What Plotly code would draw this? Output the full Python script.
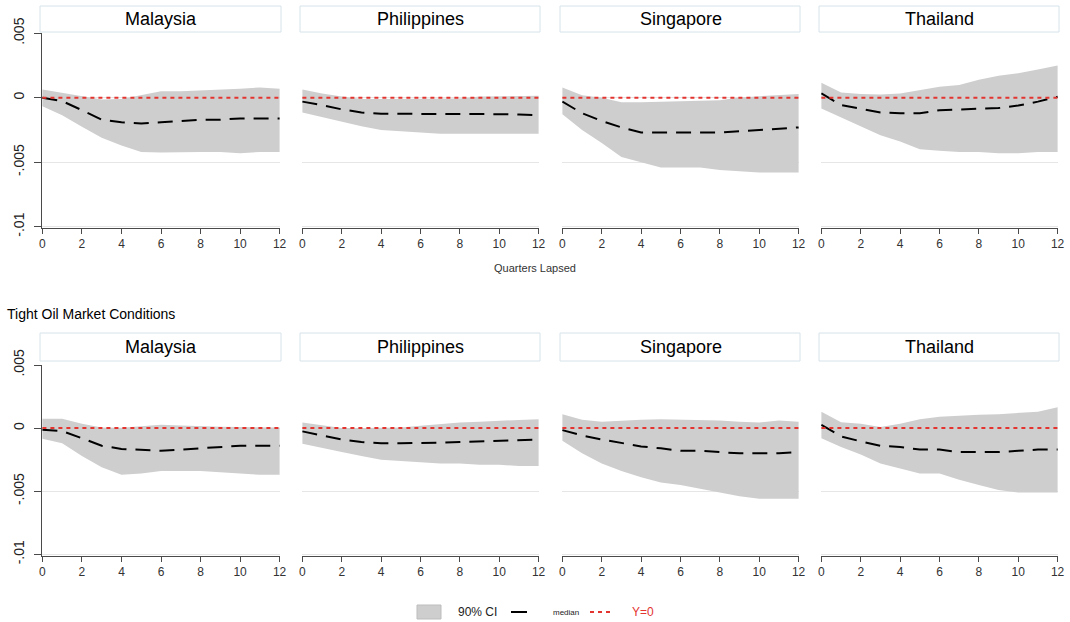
import plotly.graph_objects as go

# ---------------- data ----------------
quarters = [0, 1, 2, 3, 4, 5, 6, 7, 8, 9, 10, 11, 12]
countries = ["Malaysia", "Philippines", "Singapore", "Thailand"]
panel_title_bottom = "Tight Oil Market Conditions"
x_label = "Quarters Lapsed"
x_ticks = [0, 2, 4, 6, 8, 10, 12]
y_ticks = [-0.01, -0.005, 0, 0.005]
y_ticklabels = ["-.01", "-.005", "0", ".005"]
legend_labels = ["90% CI", "median", "Y=0"]
zero_ref = [0, 0, 0, 0, 0, 0, 0, 0, 0, 0, 0, 0, 0]

# top row (baseline)
MY1_hi = [0.00065, 0.0004, 0.0001, -0.00013, -0.0001, 0.0002, 0.0005, 0.0005, 0.00055, 0.0006, 0.0007, 0.0008, 0.0007]
MY1_lo = [-0.00065, -0.00135, -0.00225, -0.0031, -0.0037, -0.0042, -0.00425, -0.0042, -0.0042, -0.0042, -0.0043, -0.0042, -0.0042]
MY1_md = [0.0, -0.00026, -0.00096, -0.0017, -0.0019, -0.002, -0.0019, -0.0018, -0.0017, -0.0017, -0.0016, -0.0016, -0.0016]

PH1_hi = [0.00065, 0.00034, 0.0001, -0.0001, -0.0001, -0.0001, -0.0001, -0.0001, -0.00005, 0.0001, 0.00013, 0.00013, 0.00015]
PH1_lo = [-0.00114, -0.0015, -0.0019, -0.0022, -0.0025, -0.0026, -0.0027, -0.0028, -0.0028, -0.0028, -0.0028, -0.0028, -0.0028]
PH1_md = [-0.0003, -0.00057, -0.0009, -0.00114, -0.00124, -0.00124, -0.00124, -0.00124, -0.00124, -0.00127, -0.00127, -0.0013, -0.00135]

SG1_hi = [0.0008, 0.0002, 0.0, -0.00034, -0.00034, -0.0003, -0.00023, -0.00023, -0.0002, 0.00003, 0.00013, 0.00023, 0.0003]
SG1_lo = [-0.00127, -0.0025, -0.0035, -0.0046, -0.005, -0.0054, -0.0054, -0.0054, -0.0056, -0.0057, -0.0058, -0.0058, -0.0058]
SG1_md = [-0.0003, -0.0012, -0.0018, -0.0023, -0.0027, -0.0027, -0.0027, -0.0027, -0.0027, -0.0026, -0.0025, -0.0024, -0.0023]

TH1_hi = [0.00117, 0.0004, 0.0003, 0.00026, 0.00034, 0.0006, 0.00085, 0.001, 0.0014, 0.0017, 0.0019, 0.0022, 0.0025]
TH1_lo = [-0.00083, -0.0015, -0.0022, -0.0029, -0.0034, -0.004, -0.0041, -0.0042, -0.0042, -0.0043, -0.0043, -0.0042, -0.0042]
TH1_md = [0.00034, -0.00057, -0.00085, -0.00114, -0.0012, -0.0012, -0.00096, -0.0009, -0.00085, -0.0008, -0.0006, -0.0003, 0.00008]

# bottom row (tight oil market conditions)
MY2_hi = [0.00075, 0.00075, 0.00035, 0.00005, 0.00003, 0.00013, 0.00027, 0.0002, 0.00013, 0.0001, 0.00008, 0.00008, 0.00005]
MY2_lo = [-0.00085, -0.0012, -0.0022, -0.0031, -0.0037, -0.0036, -0.0034, -0.0034, -0.0034, -0.0035, -0.0036, -0.0037, -0.0037]
MY2_md = [-0.00013, -0.00024, -0.0008, -0.0014, -0.00165, -0.00175, -0.0018, -0.0017, -0.0016, -0.0015, -0.0014, -0.0014, -0.0014]

PH2_hi = [0.00045, 0.0002, 0.0, 0.0, 0.0, 0.00005, 0.00018, 0.0003, 0.00045, 0.0005, 0.0006, 0.00065, 0.0007]
PH2_lo = [-0.00124, -0.0016, -0.0019, -0.0022, -0.0025, -0.0026, -0.0027, -0.0028, -0.0028, -0.0029, -0.0029, -0.003, -0.003]
PH2_md = [-0.00026, -0.00058, -0.0009, -0.0011, -0.0012, -0.0012, -0.0012, -0.00116, -0.0011, -0.00105, -0.001, -0.0009, -0.0009]

SG2_hi = [0.0011, 0.00066, 0.0005, 0.0006, 0.00066, 0.0007, 0.00066, 0.00063, 0.0006, 0.0005, 0.00045, 0.0006, 0.0005]
SG2_lo = [-0.001, -0.002, -0.0028, -0.0034, -0.0039, -0.0043, -0.0045, -0.0048, -0.0051, -0.0054, -0.0056, -0.0056, -0.0056]
SG2_md = [-0.00016, -0.00058, -0.0009, -0.0012, -0.00145, -0.0016, -0.0018, -0.0018, -0.0019, -0.002, -0.002, -0.002, -0.0019]

TH2_hi = [0.0013, 0.00047, 0.00034, 0.00008, 0.00034, 0.0007, 0.0009, 0.001, 0.00105, 0.0011, 0.0012, 0.0013, 0.00165]
TH2_lo = [-0.0008, -0.0015, -0.0021, -0.0028, -0.0032, -0.0036, -0.0036, -0.0041, -0.0045, -0.0049, -0.0051, -0.0051, -0.0051]
TH2_md = [0.00026, -0.00066, -0.00105, -0.0014, -0.0015, -0.0017, -0.0017, -0.0019, -0.0019, -0.0019, -0.0018, -0.0017, -0.0017]

panels = [
    [(MY1_lo, MY1_hi, MY1_md), (PH1_lo, PH1_hi, PH1_md), (SG1_lo, SG1_hi, SG1_md), (TH1_lo, TH1_hi, TH1_md)],
    [(MY2_lo, MY2_hi, MY2_md), (PH2_lo, PH2_hi, PH2_md), (SG2_lo, SG2_hi, SG2_md), (TH2_lo, TH2_hi, TH2_md)],
]

# ---------------- layout constants ----------------
W, H = 1070, 622
FONT = "Liberation Sans, Arial, sans-serif"
BAND = "rgb(206,206,206)"
RED = "#e3342f"
AXC = "#4a4a4a"
GRID = "#e6e6e6"
col_px = [(42, 280), (302, 539), (562, 799), (821, 1058)]
row_px = [(33.3, 228), (365, 555.6)]
strip_px = [(6, 32), (333, 361)]


def px_x(p):
    return p / W


def px_y(p):
    return 1 - p / H


fig = go.Figure()
layout = dict(
    width=W, height=H,
    margin=dict(l=0, r=0, t=0, b=0, autoexpand=False),
    paper_bgcolor="white", plot_bgcolor="white",
    showlegend=False,
    font=dict(family=FONT, color="#222"),
)
shapes = []
annotations = []

for r in range(2):
    for c in range(4):
        i = r * 4 + c + 1
        xa = "x" if i == 1 else f"x{i}"
        ya = "y" if i == 1 else f"y{i}"
        lo, hi, md = panels[r][c]
        fig.add_trace(go.Scatter(x=quarters, y=lo, mode="lines", line=dict(width=0),
                                 xaxis=xa, yaxis=ya, hoverinfo="skip"))
        fig.add_trace(go.Scatter(x=quarters, y=hi, mode="lines", line=dict(width=0),
                                 fill="tonexty", fillcolor=BAND, xaxis=xa, yaxis=ya,
                                 name=legend_labels[0]))
        fig.add_trace(go.Scatter(x=quarters, y=md, mode="lines",
                                 line=dict(color="black", width=2, dash="15px,9px"),
                                 xaxis=xa, yaxis=ya, name=legend_labels[1]))
        fig.add_trace(go.Scatter(x=quarters, y=zero_ref, mode="lines",
                                 line=dict(color=RED, width=2, dash="4px,4px"),
                                 xaxis=xa, yaxis=ya, name=legend_labels[2]))

        x0, x1 = col_px[c]
        yt, yb = row_px[r]
        key = "" if i == 1 else str(i)
        layout["xaxis" + key] = dict(
            domain=[px_x(x0), px_x(x1)], anchor=ya, range=[-0.02, 12.02],
            tickvals=x_ticks, ticks="outside", ticklen=5, tickcolor=AXC, tickwidth=1,
            showline=True, linecolor=AXC, linewidth=1, showgrid=False, zeroline=False,
            tickfont=dict(family=FONT, size=12, color="#333"), automargin=False,
        )
        first = (c == 0)
        layout["yaxis" + key] = dict(
            domain=[px_y(yb), px_y(yt)], anchor=xa, range=[-0.0101, 0.005],
            tickvals=y_ticks, ticktext=y_ticklabels, showgrid=True, gridcolor=GRID,
            gridwidth=1, zeroline=False,
            showticklabels=first, ticks="outside" if first else "", ticklen=7,
            tickcolor=AXC, showline=first, linecolor=AXC, linewidth=1,
            tickangle=-90, tickfont=dict(family=FONT, size=14, color="#222"),
            ticklabelstandoff=4, automargin=False,
        )

        # strip title box
        st, sb = strip_px[r]
        shapes.append(dict(type="rect", xref="paper", yref="paper",
                           x0=px_x(x0 - 2), x1=px_x(x1 + 1), y0=px_y(sb), y1=px_y(st),
                           line=dict(color="#d6e3ea", width=1), fillcolor="white", layer="below"))
        annotations.append(dict(text=countries[c], xref="paper", yref="paper",
                                x=px_x((x0 + x1) / 2), y=px_y((st + sb) / 2),
                                showarrow=False, xanchor="center", yanchor="middle",
                                font=dict(family=FONT, size=18, color="black")))

# x axis title under top row
annotations.append(dict(text=x_label, xref="paper", yref="paper", x=px_x(535), y=px_y(268),
                        showarrow=False, xanchor="center", yanchor="middle",
                        font=dict(family=FONT, size=11, color="#333")))
# bottom row heading
annotations.append(dict(text=panel_title_bottom, xref="paper", yref="paper", x=px_x(5), y=px_y(314),
                        showarrow=False, xanchor="left", yanchor="middle",
                        font=dict(family=FONT, size=14, color="black")))

# legend (drawn manually)
ly = 612
shapes.append(dict(type="rect", xref="paper", yref="paper",
                   x0=px_x(417), x1=px_x(441), y0=px_y(619), y1=px_y(605),
                   line=dict(color="#bdbdbd", width=1), fillcolor=BAND))
annotations.append(dict(text=legend_labels[0], xref="paper", yref="paper", x=px_x(456), y=px_y(ly),
                        showarrow=False, xanchor="left", yanchor="middle",
                        font=dict(family=FONT, size=12, color="#222")))
shapes.append(dict(type="line", xref="paper", yref="paper",
                   x0=px_x(511), x1=px_x(527), y0=px_y(ly), y1=px_y(ly),
                   line=dict(color="black", width=2)))
annotations.append(dict(text=legend_labels[1], xref="paper", yref="paper", x=px_x(551), y=px_y(ly),
                        showarrow=False, xanchor="left", yanchor="middle",
                        font=dict(family=FONT, size=8, color="#222")))
shapes.append(dict(type="line", xref="paper", yref="paper",
                   x0=px_x(590), x1=px_x(614), y0=px_y(ly), y1=px_y(ly),
                   line=dict(color=RED, width=2, dash="4px,4px")))
annotations.append(dict(text=legend_labels[2], xref="paper", yref="paper", x=px_x(630), y=px_y(ly),
                        showarrow=False, xanchor="left", yanchor="middle",
                        font=dict(family=FONT, size=12, color=RED)))

layout["shapes"] = shapes
layout["annotations"] = annotations
fig.update_layout(**layout)
fig.write_html("out.html", config={"displayModeBar": False},
               post_script="document.body.style.margin='0';document.body.style.padding='0';document.body.style.overflow='hidden';")
